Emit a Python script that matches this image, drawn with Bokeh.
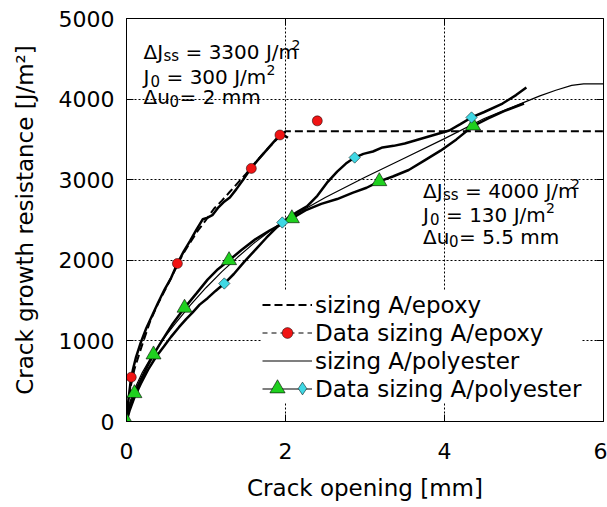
from bokeh.plotting import figure
from bokeh.models import (Range1d, FixedTicker, LinearAxis, Legend, LegendItem,
                          ColumnDataSource)
from bokeh.core.properties import value
from bokeh.embed import file_html
from bokeh.resources import INLINE
import math

FONT = "DejaVu Sans"

# ---------------- data ----------------
x_ticks = [0, 2, 4, 6]
y_ticks = [0, 1000, 2000, 3000, 4000, 5000]

# sizing A / epoxy: bridging-law model (dashed) and measured R-curve
epoxy_model_u = [0, 0.05, 0.1, 0.2, 0.3, 0.4, 0.5, 0.6, 0.7, 0.8, 0.9, 1.0, 1.1,
                 1.2, 1.3, 1.4, 1.5, 1.6, 1.7, 1.8, 1.9, 2.0, 6.0]
epoxy_model_J = [0, 420, 650, 960, 1250, 1470, 1660, 1860, 2060, 2220, 2370, 2500,
                 2640, 2740, 2850, 2960, 3070, 3190, 3300, 3410, 3510, 3600, 3600]

epoxy_test_u = [0, 0.02, 0.05, 0.08, 0.12, 0.18, 0.25, 0.33, 0.40, 0.48, 0.56, 0.64,
                0.72, 0.80, 0.88, 0.96, 1.02, 1.08, 1.15, 1.22, 1.30, 1.38, 1.46,
                1.55, 1.64, 1.72, 1.80, 1.88, 1.93, 1.96, 2.00, 2.03]
epoxy_test_J = [0, 230, 480, 640, 800, 980, 1160, 1330, 1480, 1640, 1780, 1960,
                2110, 2240, 2380, 2510, 2530, 2560, 2650, 2720, 2780, 2880, 2990,
                3120, 3230, 3320, 3410, 3500, 3550, 3560, 3540, 3520]

epoxy_pts_u = [0.06, 0.64, 1.57, 1.93, 2.40]
epoxy_pts_J = [550, 1960, 3140, 3555, 3730]

# sizing A / polyester: model (thin) and two measured R-curves
poly_model_u = [0, 0.05, 0.1, 0.2, 0.3, 0.4, 0.5, 0.6, 0.8, 1.0, 1.2, 1.4, 1.6, 1.8,
                2.0, 2.5, 3.0, 3.5, 4.0, 4.5, 5.0, 5.2, 5.4, 5.6, 5.75, 6.0]
poly_model_J = [0, 260, 400, 610, 780, 930, 1070, 1200, 1440, 1660, 1860, 2040,
                2210, 2360, 2500, 2780, 3030, 3270, 3510, 3760, 3960, 4040, 4110,
                4170, 4190, 4190]

poly_test1_u = [0, 0.03, 0.1, 0.18, 0.26, 0.34, 0.45, 0.58, 0.73, 0.88, 1.02, 1.15,
                1.29, 1.45, 1.62, 1.80, 1.95, 2.08, 2.25, 2.45, 2.65, 2.85, 3.02,
                3.18, 3.35, 3.55, 3.75, 3.95, 4.15, 4.35, 4.55, 4.75, 5.0]
poly_test1_J = [0, 150, 350, 520, 680, 830, 1010, 1210, 1410, 1590, 1760, 1890,
                2000, 2130, 2260, 2370, 2450, 2520, 2620, 2700, 2760, 2840, 2900,
                2980, 3040, 3120, 3240, 3360, 3500, 3660, 3760, 3850, 3945]

poly_test2_u = [0, 0.04, 0.1, 0.18, 0.27, 0.37, 0.47, 0.56, 0.66, 0.75, 0.83, 0.92,
                1.02, 1.12, 1.23, 1.35, 1.48, 1.62, 1.76, 1.88, 1.96, 2.05, 2.15,
                2.27, 2.40, 2.52, 2.65, 2.76, 2.87, 2.98, 3.10, 3.22, 3.36, 3.50,
                3.64, 3.78, 3.92, 4.06, 4.20, 4.34, 4.50, 4.73, 4.90, 5.03]
poly_test2_J = [0, 140, 300, 470, 640, 800, 930, 1050, 1170, 1270, 1350, 1450,
                1530, 1620, 1712, 1830, 1980, 2130, 2280, 2400, 2469, 2540, 2600,
                2670, 2800, 2960, 3100, 3200, 3275, 3320, 3350, 3400, 3420, 3450,
                3490, 3530, 3570, 3610, 3690, 3772, 3840, 3945, 4050, 4144]

poly_tri_u = [0, 0.10, 0.34, 0.73, 1.29, 2.08, 3.18, 4.36]
poly_tri_J = [0, 350, 830, 1410, 2000, 2520, 2980, 3670]

poly_dia_u = [1.23, 1.96, 2.87, 4.34]
poly_dia_J = [1712, 2469, 3275, 3772]

# ---------------- figure ----------------
p = figure(width=607, height=507, x_range=Range1d(0, 6), y_range=Range1d(0, 5000),
           output_backend="svg", toolbar_location=None,
           min_border_left=126, min_border_right=4, min_border_top=18,
           min_border_bottom=86)
p.background_fill_color = "white"
p.border_fill_color = "white"
p.outline_line_color = "black"
p.outline_line_width = 1

p.xaxis.ticker = FixedTicker(ticks=x_ticks)
p.yaxis.ticker = FixedTicker(ticks=y_ticks)
p.xaxis.axis_label = "Crack opening [mm]"
p.yaxis.axis_label = "Crack growth resistance [J/m²]"
for ax in (p.xaxis[0], p.yaxis[0]):
    ax.axis_line_color = "black"
    ax.major_tick_in = 7
    ax.major_tick_out = 0
    ax.major_tick_line_color = "black"
    ax.minor_tick_line_color = None
    ax.major_label_text_font = FONT
    ax.major_label_text_font_size = "22px"
    ax.major_label_text_color = "black"
    ax.axis_label_text_font = FONT
    ax.axis_label_text_font_size = "23px"
    ax.axis_label_text_font_style = "normal"
    ax.axis_label_text_color = "black"
p.xaxis.major_label_standoff = 21
p.yaxis.major_label_standoff = 12
p.xaxis.axis_label_standoff = 13
p.yaxis.axis_label_standoff = 18

# mirrored inward ticks on the top and right frame edges
for side, ticks in (("right", y_ticks), ("above", x_ticks)):
    ax = LinearAxis(ticker=FixedTicker(ticks=ticks), major_tick_in=7,
                    major_tick_out=0, minor_tick_line_color=None,
                    axis_line_color=None, major_label_standoff=0,
                    major_label_text_font_size="0px")
    ax.major_label_overrides = {t: "" for t in ticks}
    p.add_layout(ax, side)

p.xgrid.ticker = FixedTicker(ticks=x_ticks[1:-1])
p.ygrid.ticker = FixedTicker(ticks=y_ticks[1:-1])
p.grid.grid_line_color = "black"
p.grid.grid_line_dash = "2 2"
p.grid.grid_line_width = 1

# ---------------- curves ----------------
r_epoxy_model = p.line(epoxy_model_u, epoxy_model_J, line_color="black",
                       line_width=2, line_dash="8 4")
p.line(epoxy_test_u, epoxy_test_J, line_color="black", line_width=2.5)
r_poly_model = p.line(poly_model_u, poly_model_J, line_color="black", line_width=1.2)
p.line(poly_test1_u, poly_test1_J, line_color="black", line_width=2.5)
p.line(poly_test2_u, poly_test2_J, line_color="black", line_width=2.5)

r_epoxy_pts = p.scatter(epoxy_pts_u, epoxy_pts_J, marker="circle", size=10,
                        fill_color="#f01414", line_color="black", line_width=0.5)
r_tri = p.scatter(poly_tri_u, poly_tri_J, marker="triangle", size=15,
                  fill_color="#1fd01f", line_color="black", line_width=0.6)
p.scatter(poly_dia_u, poly_dia_J, marker="square", angle=math.pi / 4,
          size=8, fill_color="#3fd8e4", line_color="black", line_width=0.5)

# legend keys only (hidden in the plot area)
r_epoxy_key = p.line(epoxy_pts_u, epoxy_pts_J, line_color="black", line_width=1,
                     line_dash="5 4", visible=False)
r_dia_key = p.scatter(poly_dia_u, poly_dia_J, marker="diamond", size=13,
                      fill_color="#3fd8e4", line_color="black", line_width=0.5,
                      visible=False)

# ---------------- parameter annotations ----------------
def rich_text(x0, y_lines, lines):
    xs, ys, texts, dxs, dys, sizes = [], [], [], [], [], []
    for yv, pieces in zip(y_lines, lines):
        for txt, dx, dy, fs in pieces:
            xs.append(x0); ys.append(yv); texts.append(txt)
            dxs.append(dx); dys.append(dy); sizes.append(fs)
    src = ColumnDataSource(dict(x=xs, y=ys, text=texts, dx=dxs, dy=dys, fs=sizes))
    p.text(x="x", y="y", text="text", source=src, x_offset="dx", y_offset="dy",
           text_font_size="fs", text_font=value(FONT), text_color="black",
           text_baseline="alphabetic", text_align="left")

rich_text(0.214, [4582, 4272, 4020], [
    [("ΔJ", 0, 0, "20px"), ("ss", 20, 4, "15px"), ("= 3300 J/m", 42, 0, "20px"), ("2", 148, -7, "14px")],
    [("J", 0, 0, "20px"), ("0", 7, 4, "15px"), ("= 300 J/m", 23, 0, "20px"), ("2", 123, -7, "14px")],
    [("Δu", 0, 0, "20px"), ("0", 26, 4, "15px"), ("= 2 mm", 36, 0, "20px")],
])
rich_text(3.73, [2866, 2556, 2287], [
    [("ΔJ", 0, 0, "20px"), ("ss", 20, 4, "15px"), ("= 4000 J/m", 42, 0, "20px"), ("2", 148, -7, "14px")],
    [("J", 0, 0, "20px"), ("0", 7, 4, "15px"), ("= 130 J/m", 23, 0, "20px"), ("2", 123, -7, "14px")],
    [("Δu", 0, 0, "20px"), ("0", 26, 4, "15px"), ("= 5.5 mm", 36, 0, "20px")],
])

# ---------------- legend ----------------
legend = Legend(items=[
    LegendItem(label="sizing A/epoxy", renderers=[r_epoxy_model]),
    LegendItem(label="Data sizing A/epoxy", renderers=[r_epoxy_key, r_epoxy_pts]),
    LegendItem(label="sizing A/polyester", renderers=[r_poly_model]),
    LegendItem(label="Data sizing A/polyester", renderers=[r_poly_model]),
], location=(136, 19), glyph_width=50, glyph_height=27, label_height=27,
    label_standoff=3, spacing=1, padding=8, margin=0,
    label_text_font=FONT, label_text_font_size="23px", label_text_color="black",
    background_fill_color="white", background_fill_alpha=1.0,
    border_line_color=None)
p.add_layout(legend)

# triangle and diamond keys sit side by side on the last legend row
for rend, loc, box in ((r_tri, (132, 14), 38), (r_dia_key, (160, 17), 32)):
    key = Legend(items=[LegendItem(label=value(" "), renderers=[rend])],
                 location=loc, glyph_width=box, glyph_height=box, label_height=box,
                 label_width=0, label_standoff=0, spacing=0, padding=0, margin=0,
                 label_text_font_size="1px", background_fill_alpha=0,
                 border_line_color=None)
    p.add_layout(key)

open("out.html", "w").write(file_html(p, INLINE))
